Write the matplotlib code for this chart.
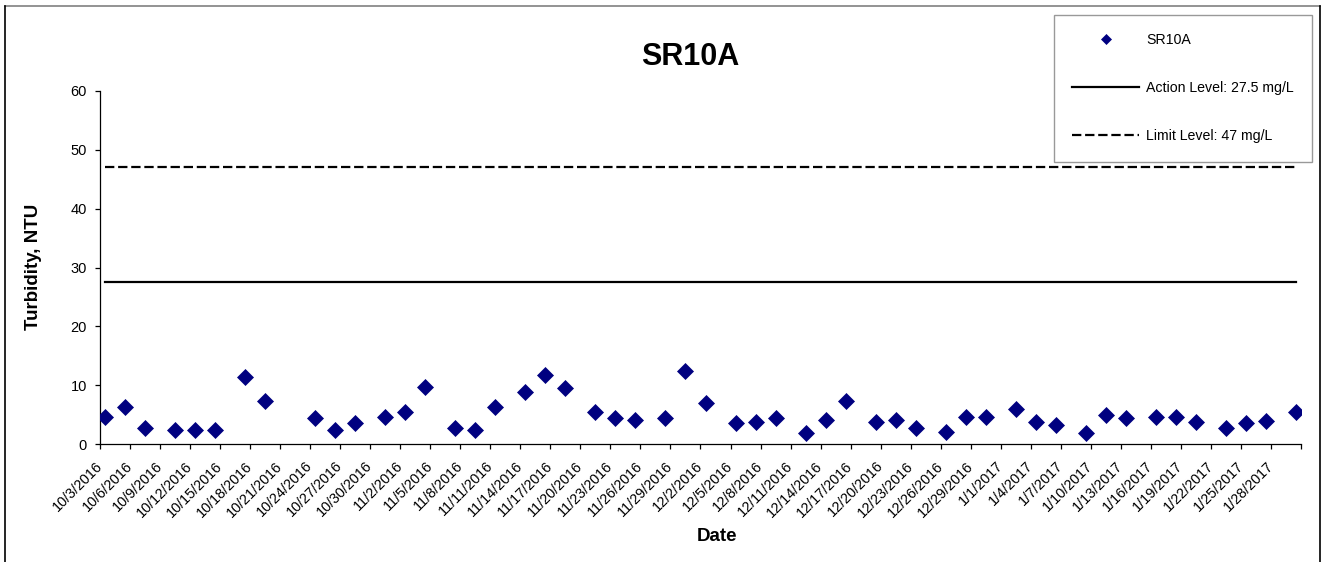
import matplotlib
matplotlib.use("Agg")
import matplotlib.pyplot as plt
import matplotlib.dates as mdates
from matplotlib.lines import Line2D
from matplotlib.transforms import ScaledTranslation
import datetime as dt

plt.rcParams['font.family'] = ['Liberation Sans', 'DejaVu Sans']

# ---- data ----
sample_dates = ["2016-10-03", "2016-10-05", "2016-10-07", "2016-10-10", "2016-10-12", "2016-10-14",
                "2016-10-17", "2016-10-19", "2016-10-24", "2016-10-26", "2016-10-28", "2016-10-31",
                "2016-11-02", "2016-11-04", "2016-11-07", "2016-11-09", "2016-11-11", "2016-11-14",
                "2016-11-16", "2016-11-18", "2016-11-21", "2016-11-23", "2016-11-25", "2016-11-28",
                "2016-11-30", "2016-12-02", "2016-12-05", "2016-12-07", "2016-12-09", "2016-12-12",
                "2016-12-14", "2016-12-16", "2016-12-19", "2016-12-21", "2016-12-23", "2016-12-26",
                "2016-12-28", "2016-12-30", "2017-01-02", "2017-01-04", "2017-01-06", "2017-01-09",
                "2017-01-11", "2017-01-13", "2017-01-16", "2017-01-18", "2017-01-20", "2017-01-23",
                "2017-01-25", "2017-01-27", "2017-01-30"]
turbidity = [4.6, 6.4, 2.7, 2.5, 2.5, 2.5,
             11.4, 7.35, 4.4, 2.5, 3.6, 4.7,
             5.4, 9.8, 2.8, 2.4, 6.4, 8.8,
             11.8, 9.6, 5.4, 4.5, 4.1, 4.5,
             12.4, 7.0, 3.6, 3.7, 4.4, 2.0,
             4.1, 7.4, 3.8, 4.2, 2.7, 2.1,
             4.7, 4.7, 6.0, 3.8, 3.2, 2.0,
             4.9, 4.5, 4.7, 4.7, 3.8, 2.8,
             3.6, 4.0, 5.4]
action_level = 27.5
limit_level = 47
axis_start = "2016-10-03"
axis_end = "2017-01-31"
tick_step_days = 3
y_ticks = [0, 10, 20, 30, 40, 50, 60]
series_name = "SR10A"
action_label = "Action Level: 27.5 mg/L"
limit_label = "Limit Level: 47 mg/L"

# ---- figure ----
W, H = 1324, 562
fig = plt.figure(figsize=(W / 100, H / 100), dpi=100)

def fx(px):
    return px / W

def fy(py):
    return 1 - py / H

# outer border
fig.add_artist(Line2D([fx(5), fx(1320)], [fy(6), fy(6)], color='#808080', lw=1.2, transform=fig.transFigure))
fig.add_artist(Line2D([fx(5), fx(5)], [fy(6), 0], color='black', lw=1.2, transform=fig.transFigure))
fig.add_artist(Line2D([fx(1320), fx(1320)], [fy(6), 0], color='black', lw=1.2, transform=fig.transFigure))

ax = fig.add_axes([fx(100), fy(444.3), fx(1301) - fx(100), fy(90.7) - fy(444.3)])

x0 = mdates.date2num(dt.datetime.fromisoformat(axis_start))
x1 = mdates.date2num(dt.datetime.fromisoformat(axis_end))
xs = [mdates.date2num(dt.datetime.fromisoformat(d)) + 0.5 for d in sample_dates]

ax.plot(xs, turbidity, linestyle='none', marker='D', ms=8, color='#000080',
        mec='#000080', mew=0.5, label=series_name, zorder=3)
ax.plot([xs[0], xs[-1]], [action_level, action_level], color='black', lw=1.6, label=action_label)
ax.plot([xs[0], xs[-1]], [limit_level, limit_level], color='black', lw=1.6,
        linestyle=(0, (4.2, 1.7)), label=limit_label)

ax.set_xlim(x0, x1)
ax.set_ylim(0, 60)
ax.set_yticks(y_ticks)

ticks = []
labels = []
t = x0
while t <= x1 + 1e-6:
    ticks.append(t)
    d = mdates.num2date(t)
    labels.append(f"{d.month}/{d.day}/{d.year}" if t < x1 - 1e-6 else "")
    t += tick_step_days
ax.set_xticks(ticks)
ax.set_xticklabels(labels, rotation=45, ha='right', va='center', rotation_mode='anchor', fontsize=10.4)
offset = ScaledTranslation(7 / 100, 0, fig.dpi_scale_trans)
for lab in ax.get_xticklabels():
    lab.set_transform(lab.get_transform() + offset)

for s in ['top', 'right']:
    ax.spines[s].set_visible(False)
for s in ['left', 'bottom']:
    ax.spines[s].set_linewidth(0.9)
ax.tick_params(axis='both', direction='out', length=3.5, width=0.9)
ax.tick_params(axis='y', labelsize=10.5, pad=6)
ax.tick_params(axis='x', pad=10.5)

fig.text(fx(690), fy(57), series_name, ha='center', va='center', fontsize=22, fontweight='bold')
fig.text(fx(716.7), fy(536.7), "Date", ha='center', va='center', fontsize=13.5, fontweight='bold')
fig.text(fx(34), fy(267), "Turbidity, NTU", ha='center', va='center', rotation=90,
         fontsize=13.5, fontweight='bold')

leg = fig.legend(loc='upper left', bbox_to_anchor=(fx(1054), fy(15)), bbox_transform=fig.transFigure,
                 fontsize=10.2, frameon=True, fancybox=False, handlelength=4.7, handletextpad=0.5,
                 borderpad=1.3, labelspacing=2.4, markerscale=0.6, borderaxespad=0)
leg.get_frame().set_edgecolor('#808080')
leg.get_frame().set_linewidth(1.0)

fig.savefig("out.png", dpi=100)
